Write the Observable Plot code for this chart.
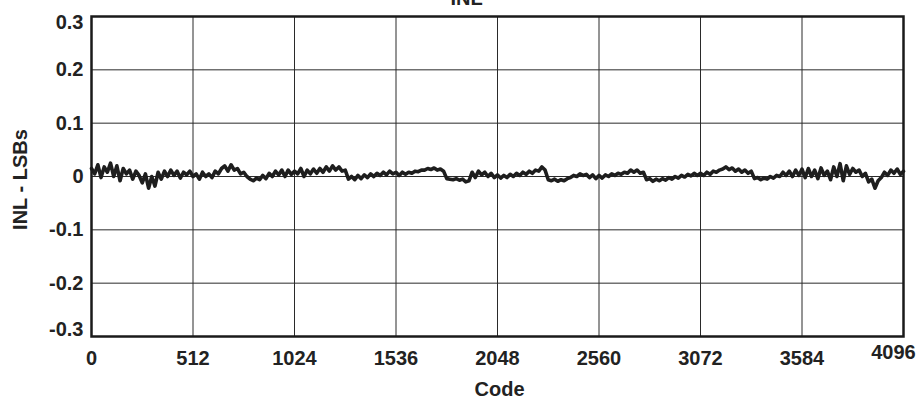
<!DOCTYPE html>
<html>
<head>
<meta charset="utf-8">
<script src="https://cdn.jsdelivr.net/npm/d3@7"></script>
<script src="https://cdn.jsdelivr.net/npm/@observablehq/plot@0.6"></script>
<style>
  html, body { margin: 0; padding: 0; background: #fff; }
  #chart svg { overflow: visible; display: block; }
</style>
</head>
<body>
<div id="chart"></div>
<script>
// ---- data ----
const codeStep = 16;
const inl = [
  // 0 - 512
  0.015, 0.005, 0.022, -0.002, 0.018, 0.008, 0.025, 0.000, 0.020, -0.008, 0.015, 0.005, 0.012, -0.005, 0.010, 0.002,
  -0.012, 0.005, -0.022, 0.000, -0.018, 0.008, -0.005, 0.010, 0.000, 0.012, 0.002, 0.010, -0.003, 0.008, 0.003, 0.010,
  // 512 - 1024
  0.000, 0.005, -0.005, 0.008, 0.000, 0.005, -0.002, 0.010, 0.005, 0.015, 0.020, 0.010, 0.022, 0.012, 0.015, 0.005,
  0.008, 0.000, -0.005, -0.008, -0.003, -0.006, 0.002, -0.004, 0.006, 0.000, 0.010, 0.003, 0.012, 0.000, 0.012, 0.004,
  // 1024 - 1536
  0.010, 0.005, 0.015, 0.000, 0.012, 0.005, 0.014, 0.006, 0.015, 0.008, 0.018, 0.010, 0.020, 0.012, 0.018, 0.010,
  0.012, -0.005, 0.000, -0.006, 0.002, -0.004, 0.003, -0.002, 0.005, 0.000, 0.006, 0.002, 0.008, 0.003, 0.010, 0.005,
  // 1536 - 2048
  0.008, 0.002, 0.008, 0.004, 0.008, 0.006, 0.010, 0.009, 0.012, 0.012, 0.015, 0.013, 0.016, 0.012, 0.014, 0.010,
  -0.004, -0.005, -0.006, -0.004, -0.007, -0.005, -0.010, -0.008, 0.008, -0.002, 0.010, 0.003, 0.008, 0.000, 0.006, -0.002,
  // 2048 - 2560
  0.003, -0.003, 0.002, -0.002, 0.004, 0.000, 0.006, 0.002, 0.008, 0.004, 0.010, 0.006, 0.012, 0.010, 0.018, 0.012,
  -0.006, -0.008, -0.005, -0.009, -0.006, -0.008, -0.004, -0.002, 0.002, 0.000, 0.005, 0.002, 0.004, -0.002, 0.003, -0.004,
  // 2560 - 3072
  0.002, -0.003, 0.003, 0.000, 0.005, 0.002, 0.006, 0.004, 0.008, 0.006, 0.012, 0.008, 0.012, 0.006, 0.008, -0.006,
  -0.004, -0.009, -0.005, -0.008, -0.004, -0.007, -0.002, -0.005, 0.000, -0.003, 0.002, -0.001, 0.004, 0.001, 0.006, 0.002,
  // 3072 - 3584
  0.006, 0.002, 0.008, 0.004, 0.010, 0.008, 0.012, 0.014, 0.018, 0.013, 0.016, 0.010, 0.014, 0.008, 0.012, 0.006,
  0.010, -0.004, -0.002, -0.006, -0.003, -0.005, 0.000, -0.003, 0.002, 0.000, 0.008, 0.002, 0.010, 0.000, 0.012, 0.002,
  // 3584 - 4096
  0.014, -0.002, 0.015, 0.000, 0.012, -0.004, 0.016, 0.002, 0.010, -0.006, 0.018, 0.000, 0.024, -0.008, 0.020, 0.004,
  0.015, 0.008, 0.012, 0.000, 0.006, -0.010, -0.005, -0.022, -0.008, -0.002, 0.008, 0.002, 0.012, 0.006, 0.014, 0.004,
  0.010
];
const xTicks = [0, 512, 1024, 1536, 2048, 2560, 3072, 3584, 4096];
const yTicks = [-0.3, -0.2, -0.1, 0, 0.1, 0.2, 0.3];
const titleText = "INL";
const xLabel = "Code";
const yLabel = "INL - LSBs";

const data = inl.map((v, i) => ({code: i * codeStep, inl: v}));
const fmtY = d => d === 0 ? "0" : (d < 0 ? "-" : "") + Math.abs(d).toFixed(1);

const font = "'Liberation Sans', Arial, Helvetica, sans-serif";
const fs = 20;
const ink = "#222";
const yMid = yTicks.filter(t => Math.abs(t) < 0.25);
const xMain = xTicks.slice(0, -1);
const xLast = xTicks.slice(-1);

const chart = Plot.plot({
  width: 921,
  height: 399,
  marginLeft: 91,
  marginRight: 18,
  marginTop: 16,
  marginBottom: 63,
  style: {fontFamily: font, fontWeight: "bold", fontSize: fs + "px", color: ink, background: "#fff"},
  x: {domain: [0, 4096], axis: null},
  y: {domain: [-0.3, 0.3], axis: null},
  marks: [
    Plot.gridX(xTicks, {stroke: "#2a2a2a", strokeOpacity: 1, strokeWidth: 1}),
    Plot.gridY(yTicks, {stroke: "#2a2a2a", strokeOpacity: 1, strokeWidth: 1}),
    Plot.line(data, {x: "code", y: "inl", stroke: "#1e1e1e", strokeWidth: 3.6, strokeLinejoin: "round"}),
    Plot.frame({stroke: "#1a1a1a", strokeWidth: 2.5}),
    // y tick labels
    Plot.text(yMid, {y: d => d, text: fmtY, frameAnchor: "left", textAnchor: "end", dx: -8, fontSize: fs, fontWeight: "bold", fill: ink}),
    Plot.text([0.3], {y: d => d, text: fmtY, frameAnchor: "left", textAnchor: "end", dx: -8, dy: 6, fontSize: fs, fontWeight: "bold", fill: ink}),
    Plot.text([-0.3], {y: d => d, text: fmtY, frameAnchor: "left", textAnchor: "end", dx: -8, dy: -7, fontSize: fs, fontWeight: "bold", fill: ink}),
    // x tick labels
    Plot.text(xMain, {x: d => d, text: d => String(d), frameAnchor: "bottom", lineAnchor: "top", dy: 14, fontSize: fs, fontWeight: "bold", fill: ink}),
    Plot.text(xLast, {x: d => d, text: d => String(d), frameAnchor: "bottom", lineAnchor: "top", dy: 8, dx: -10, fontSize: fs, fontWeight: "bold", fill: ink}),
    // axis labels and title
    Plot.text([xLabel], {text: d => d, frameAnchor: "bottom", lineAnchor: "bottom", dy: 59, dx: 2, fontSize: fs, fontWeight: "bold", fill: ink}),
    Plot.text([yLabel], {text: d => d, frameAnchor: "left", textAnchor: "middle", rotate: -90, dx: -71, dy: 3, fontSize: fs, fontWeight: "bold", fill: ink}),
    Plot.text([titleText], {text: d => d, frameAnchor: "top", lineAnchor: "bottom", dy: -12, dx: -31, fontSize: fs, fontWeight: "bold", fill: ink})
  ]
});
document.getElementById("chart").appendChild(chart);
</script>
</body>
</html>
